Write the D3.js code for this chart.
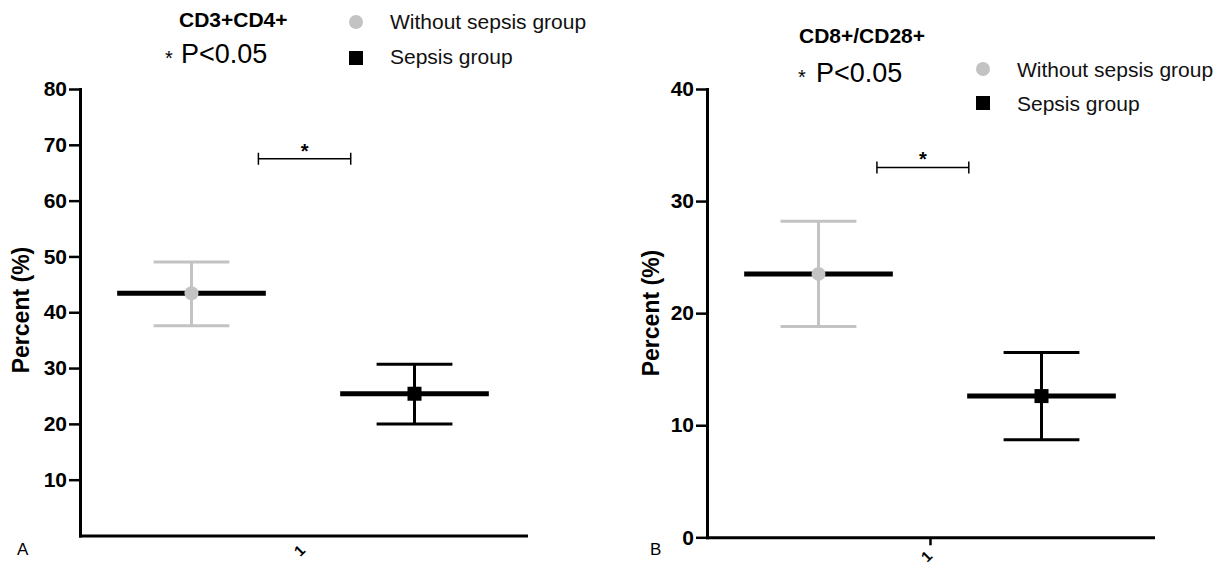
<!DOCTYPE html>
<html>
<head>
<meta charset="utf-8">
<script src="https://cdn.jsdelivr.net/npm/d3@7"></script>
<style>
  body { margin: 0; background: #fff; }
  svg { display: block; font-family: "Liberation Sans", Arial, sans-serif; }
</style>
</head>
<body>
<div id="chart"></div>
<script>
const groups = ["Without sepsis group", "Sepsis group"];
const xTickLabels = ["1"];

const cd4Mean = [43.4, 25.4];
const cd4Upper = [49.0, 30.7];
const cd4Lower = [37.6, 20.0];
const cd4Ticks = [10, 20, 30, 40, 50, 60, 70, 80];
const cd4Bracket = 67.5;

const cd8Mean = [23.5, 12.6];
const cd8Upper = [28.2, 16.5];
const cd8Lower = [18.8, 8.7];
const cd8Ticks = [0, 10, 20, 30, 40];
const cd8Bracket = 33.0;

const groupColor = ["#c3c3c3", "#000000"];

const width = 1227;
const height = 568;

const svg = d3
  .select("#chart")
  .append("svg")
  .attr("width", width)
  .attr("height", height)
  .attr("viewBox", `0 0 ${width} ${height}`);

const panels = [
  {
    letter: "A", letterX: 17, title: "CD3+CD4+", titleX: 179, titleY: 27,
    pX: 181, pY: 63, starX: 169,
    legX: 356, legY: [22, 58], legTextY: [29, 64],
    mean: cd4Mean, upper: cd4Upper, lower: cd4Lower, ticks: cd4Ticks, yMax: 80,
    bracket: cd4Bracket, span: [0.40, 0.607],
    left: 80, right: 526, top: 89, bottom: 535.5, xTick: 0, xLabelOff: 15,
    labelX: 21, labelY: 310,
  },
  {
    letter: "B", letterX: 650, title: "CD8+/CD28+", titleX: 799, titleY: 43,
    pX: 816, pY: 82, starX: 802,
    legX: 983, legY: [69, 103], legTextY: [77, 111],
    mean: cd8Mean, upper: cd8Upper, lower: cd8Lower, ticks: cd8Ticks, yMax: 40,
    bracket: cd8Bracket, span: [0.381, 0.587],
    left: 707, right: 1153, top: 89, bottom: 537.3, xTick: 8, xLabelOff: 19,
    labelX: 651, labelY: 313,
  },
];

panels.forEach((p) => {
  const g = svg.append("g");

  const y = d3.scaleLinear().domain([0, p.yMax]).range([p.bottom, p.top]);
  const x = d3.scaleBand().domain(groups).range([p.left, p.right]).padding(0);
  const xTick = d3.scalePoint().domain(xTickLabels).range([p.left, p.right]).padding(0.5);
  const bw = x.bandwidth();
  const cx = (d) => x(d) + bw / 2;

  // y axis
  g.append("g")
    .attr("transform", `translate(${p.left},0)`)
    .call(d3.axisLeft(y).tickValues(p.ticks).tickSize(11).tickPadding(2).tickSizeOuter(0))
    .call((a) => a.select(".domain").attr("stroke-width", 3).attr("stroke-linecap", "square"))
    .call((a) => a.selectAll(".tick line").attr("stroke-width", 2.5))
    .call((a) =>
      a.selectAll(".tick text")
        .attr("font-size", 21)
        .attr("font-weight", "bold")
        .attr("fill", "#000")
        .attr("font-family", "Liberation Sans, Arial, sans-serif")
    );

  // x axis
  g.append("g")
    .attr("transform", `translate(0,${p.bottom})`)
    .call(d3.axisBottom(xTick).tickSize(p.xTick).tickSizeOuter(0))
    .call((a) => a.select(".domain").attr("stroke-width", 3).attr("stroke-linecap", "square"))
    .call((a) => a.selectAll(".tick line").attr("stroke-width", 2.5))
    .call((a) =>
      a.selectAll(".tick text")
        .attr("y", 0)
        .attr("dy", "0.35em")
        .attr("text-anchor", "middle")
        .attr("transform", `translate(-4,${p.xLabelOff}) rotate(-45)`)
        .attr("font-size", 15)
        .attr("font-weight", "bold")
        .attr("fill", "#000")
        .attr("font-family", "Liberation Sans, Arial, sans-serif")
    );

  const rows = groups.map((name, i) => ({
    name, i, mean: p.mean[i], upper: p.upper[i], lower: p.lower[i],
  }));

  // error bars
  g.selectAll(".whisker")
    .data(rows)
    .join("line")
    .attr("x1", (d) => cx(d.name))
    .attr("x2", (d) => cx(d.name))
    .attr("y1", (d) => y(d.lower))
    .attr("y2", (d) => y(d.upper))
    .attr("stroke", (d) => groupColor[d.i])
    .attr("stroke-width", 3);

  ["upper", "lower"].forEach((k) => {
    g.selectAll(`.cap-${k}`)
      .data(rows)
      .join("line")
      .attr("x1", (d) => cx(d.name) - bw * 0.17)
      .attr("x2", (d) => cx(d.name) + bw * 0.17)
      .attr("y1", (d) => y(d[k]))
      .attr("y2", (d) => y(d[k]))
      .attr("stroke", (d) => groupColor[d.i])
      .attr("stroke-width", 3);
  });

  // mean lines
  g.selectAll(".meanline")
    .data(rows)
    .join("line")
    .attr("x1", (d) => cx(d.name) - bw / 3)
    .attr("x2", (d) => cx(d.name) + bw / 3)
    .attr("y1", (d) => y(d.mean))
    .attr("y2", (d) => y(d.mean))
    .attr("stroke", "#000")
    .attr("stroke-width", 5);

  // markers
  g.append("circle")
    .attr("cx", cx(groups[0]))
    .attr("cy", y(p.mean[0]))
    .attr("r", 7)
    .attr("fill", groupColor[0]);
  g.append("rect")
    .attr("x", cx(groups[1]) - 7)
    .attr("y", y(p.mean[1]) - 7)
    .attr("width", 14)
    .attr("height", 14)
    .attr("fill", groupColor[1]);

  // significance bracket
  const bx1 = p.left + (p.right - p.left) * p.span[0];
  const bx2 = p.left + (p.right - p.left) * p.span[1];
  const by = y(p.bracket);
  g.append("path")
    .attr("d", `M${bx1},${by - 6}V${by + 6}M${bx1},${by}H${bx2}M${bx2},${by - 6}V${by + 6}`)
    .attr("fill", "none")
    .attr("stroke", "#000")
    .attr("stroke-width", 1.5);
  g.append("text")
    .attr("x", (bx1 + bx2) / 2)
    .attr("y", by - 1)
    .attr("text-anchor", "middle")
    .attr("font-size", 20)
    .attr("font-weight", "bold")
    .text("*");

  // y label
  g.append("text")
    .attr("transform", `translate(${p.labelX},${p.labelY}) rotate(-90)`)
    .attr("text-anchor", "middle")
    .attr("dy", "0.35em")
    .attr("font-size", 23)
    .attr("font-weight", "bold")
    .text("Percent (%)");

  // title and p value
  g.append("text")
    .attr("x", p.titleX)
    .attr("y", p.titleY)
    .attr("font-size", 21)
    .attr("font-weight", "bold")
    .text(p.title);
  g.append("text")
    .attr("x", p.starX)
    .attr("y", p.pY + 2)
    .attr("text-anchor", "middle")
    .attr("font-size", 20)
    .text("*");
  g.append("text")
    .attr("x", p.pX)
    .attr("y", p.pY)
    .attr("font-size", 27)
    .text("P<0.05");

  // legend
  g.append("circle")
    .attr("cx", p.legX)
    .attr("cy", p.legY[0])
    .attr("r", 7)
    .attr("fill", groupColor[0]);
  g.append("rect")
    .attr("x", p.legX - 7)
    .attr("y", p.legY[1] - 7)
    .attr("width", 14)
    .attr("height", 14)
    .attr("fill", groupColor[1]);
  g.selectAll(".legtext")
    .data(groups)
    .join("text")
    .attr("x", p.legX + 34)
    .attr("y", (d, i) => p.legTextY[i])
    .attr("font-size", 21)
    .attr("fill", "#111")
    .text((d) => d);

  // panel letter
  g.append("text")
    .attr("x", p.letterX)
    .attr("y", 555)
    .attr("font-size", 17)
    .text(p.letter);
});
</script>
</body>
</html>
